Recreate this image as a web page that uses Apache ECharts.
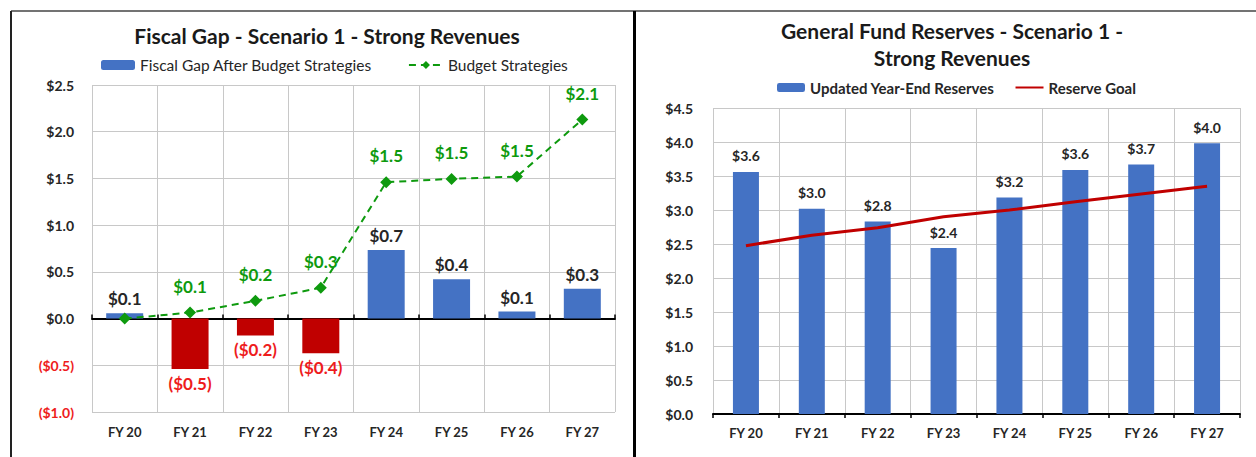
<!DOCTYPE html>
<html>
<head>
<meta charset="utf-8">
<script src="https://cdn.jsdelivr.net/npm/echarts@6/dist/echarts.min.js"></script>
<style>
html,body{margin:0;padding:0;background:#fff;}
#c{width:1256px;height:457px;}
</style>
</head>
<body>
<div id="c"></div>
<script>
// ---------- DATA ----------
const categories = ['FY 20','FY 21','FY 22','FY 23','FY 24','FY 25','FY 26','FY 27'];
const fiscalGap = [0.057, -0.54, -0.18, -0.37, 0.735, 0.42, 0.075, 0.32];
const budgetStrategies = [0, 0.064, 0.19, 0.33, 1.46, 1.495, 1.52, 2.13];
const reserves = [3.56, 3.02, 2.83, 2.44, 3.185, 3.59, 3.67, 3.98];
const reserveGoal = [2.475, 2.63, 2.74, 2.9, 3.0, 3.12, 3.235, 3.35];
const leftTitle = 'Fiscal Gap - Scenario 1 - Strong Revenues';
const rightTitle = 'General Fund Reserves - Scenario 1 -\nStrong Revenues';
const leftNames = ['Fiscal Gap After Budget Strategies', 'Budget Strategies'];
const rightNames = ['Updated Year-End Reserves', 'Reserve Goal'];

// ---------- STYLE ----------
const FONT = 'Lato';
const BLUE = '#4472C4', DARKRED = '#C00000', GREEN = '#0E9A0E', NEGTXT = '#EE1C1C', TXT = '#262626', GRID = '#C8C8C8';

function money(v){ return (v < 0 ? '($' + Math.abs(v).toFixed(1) + ')' : '$' + v.toFixed(1)); }

const chart = echarts.init(document.getElementById('c'), null, {renderer:'svg'});

const gapData = fiscalGap.map(v => ({
  value: v,
  itemStyle: {color: v < 0 ? DARKRED : BLUE},
  label: {position: v < 0 ? 'bottom' : 'top', color: v < 0 ? NEGTXT : TXT}
}));

const option = {
  animation: false,
  textStyle: {fontFamily: FONT},
  title: [
    {text: leftTitle, left: 322, top: 20, textAlign: 'center',
     textStyle: {fontFamily: FONT, fontSize: 21, fontWeight: 'bold', color: '#1a1a1a'}},
    {text: rightTitle, left: 947, top: 12, textAlign: 'center',
     textStyle: {fontFamily: FONT, fontSize: 21, fontWeight: 'bold', color: '#1a1a1a', lineHeight: 27}}
  ],
  legend: [
    {data: leftNames, left: 96, top: 52, itemWidth: 34, itemHeight: 10, itemGap: 36,
     textStyle: {fontFamily: FONT, fontSize: 15.5, color: TXT}},
    {data: [{name: rightNames[0]}, {name: rightNames[1], itemStyle: {opacity: 0}}],
     left: 772, top: 75, itemWidth: 28, itemHeight: 9, itemGap: 20,
     textStyle: {fontFamily: FONT, fontSize: 15, fontWeight: 'bold', color: TXT}}
  ],
  grid: [
    {left: 92, right: 641, top: 85, bottom: 45},
    {left: 713, right: 16, top: 108, bottom: 43}
  ],
  xAxis: [
    {type: 'category', gridIndex: 0, data: categories, position: 'bottom',
     axisLine: {show: false, onZero: false}, axisTick: {show: false},
     axisLabel: {margin: 13, fontFamily: FONT, fontSize: 13, fontWeight: 'bold', color: TXT},
     splitLine: {show: true, lineStyle: {color: GRID, width: 1}}},
    {type: 'category', gridIndex: 0, data: categories,
     axisLine: {show: true, onZero: true, lineStyle: {color: '#000', width: 2}},
     axisTick: {show: true, length: 4, lineStyle: {color: '#000', width: 1.5}},
     axisLabel: {show: false}, splitLine: {show: false}},
    {type: 'category', gridIndex: 1, data: categories,
     axisLine: {show: true, lineStyle: {color: '#000', width: 2}},
     axisTick: {show: true, length: 4, lineStyle: {color: '#000', width: 1.5}},
     axisLabel: {margin: 12, fontFamily: FONT, fontSize: 13, fontWeight: 'bold', color: TXT},
     splitLine: {show: true, lineStyle: {color: GRID, width: 1}}}
  ],
  yAxis: [
    {type: 'value', gridIndex: 0, min: -1, max: 2.5, interval: 0.5,
     axisLine: {show: false}, axisTick: {show: false},
     axisLabel: {margin: 18, fontFamily: FONT, fontSize: 14, fontWeight: 'bold', color: TXT,
       formatter: v => v < 0 ? '{n|' + money(v) + '}' : money(v),
       rich: {n: {color: NEGTXT, fontFamily: FONT, fontSize: 14, fontWeight: 'bold'}}},
     splitLine: {lineStyle: {color: GRID, width: 1}}},
    {type: 'value', gridIndex: 1, min: 0, max: 4.5, interval: 0.5,
     axisLine: {show: false}, axisTick: {show: false},
     axisLabel: {margin: 20, fontFamily: FONT, fontSize: 14, fontWeight: 'bold', color: TXT,
       formatter: v => money(v)},
     splitLine: {lineStyle: {color: GRID, width: 1}}}
  ],
  series: [
    {name: leftNames[0], type: 'bar', xAxisIndex: 0, yAxisIndex: 0, barWidth: 37,
     data: gapData, itemStyle: {color: BLUE},
     label: {show: true, distance: 6, fontFamily: FONT, fontSize: 17, fontWeight: 'bold',
       formatter: p => money(p.value)}},
    {name: leftNames[1], type: 'line', xAxisIndex: 0, yAxisIndex: 0, data: budgetStrategies,
     color: GREEN, symbol: 'diamond', symbolSize: 12, z: 5,
     lineStyle: {color: GREEN, width: 2, type: [7, 5]}, itemStyle: {color: GREEN},
     label: {show: true, position: 'top', distance: 12, color: GREEN, fontFamily: FONT, fontSize: 17, fontWeight: 'bold',
       formatter: p => p.value === 0 ? '' : money(p.value)}},
    {name: rightNames[0], type: 'bar', xAxisIndex: 2, yAxisIndex: 1, barWidth: 26,
     data: reserves, itemStyle: {color: BLUE},
     label: {show: true, position: 'top', distance: 9, color: TXT, fontFamily: FONT, fontSize: 14, fontWeight: 'bold',
       formatter: p => money(p.value)}},
    {name: rightNames[1], type: 'line', xAxisIndex: 2, yAxisIndex: 1, data: reserveGoal,
     color: DARKRED, symbol: 'none', z: 5,
     lineStyle: {color: DARKRED, width: 3}}
  ],
  graphic: [
    {type: 'line', shape: {x1: 11, y1: 11, x2: 1256, y2: 11}, style: {stroke: '#444', lineWidth: 1.5}, silent: true},
    {type: 'line', shape: {x1: 11, y1: 11, x2: 11, y2: 457}, style: {stroke: '#222', lineWidth: 2}, silent: true},
    {type: 'line', shape: {x1: 634.5, y1: 11, x2: 634.5, y2: 457}, style: {stroke: '#000', lineWidth: 3}, silent: true}
  ]
};
chart.setOption(option);
</script>
</body>
</html>
